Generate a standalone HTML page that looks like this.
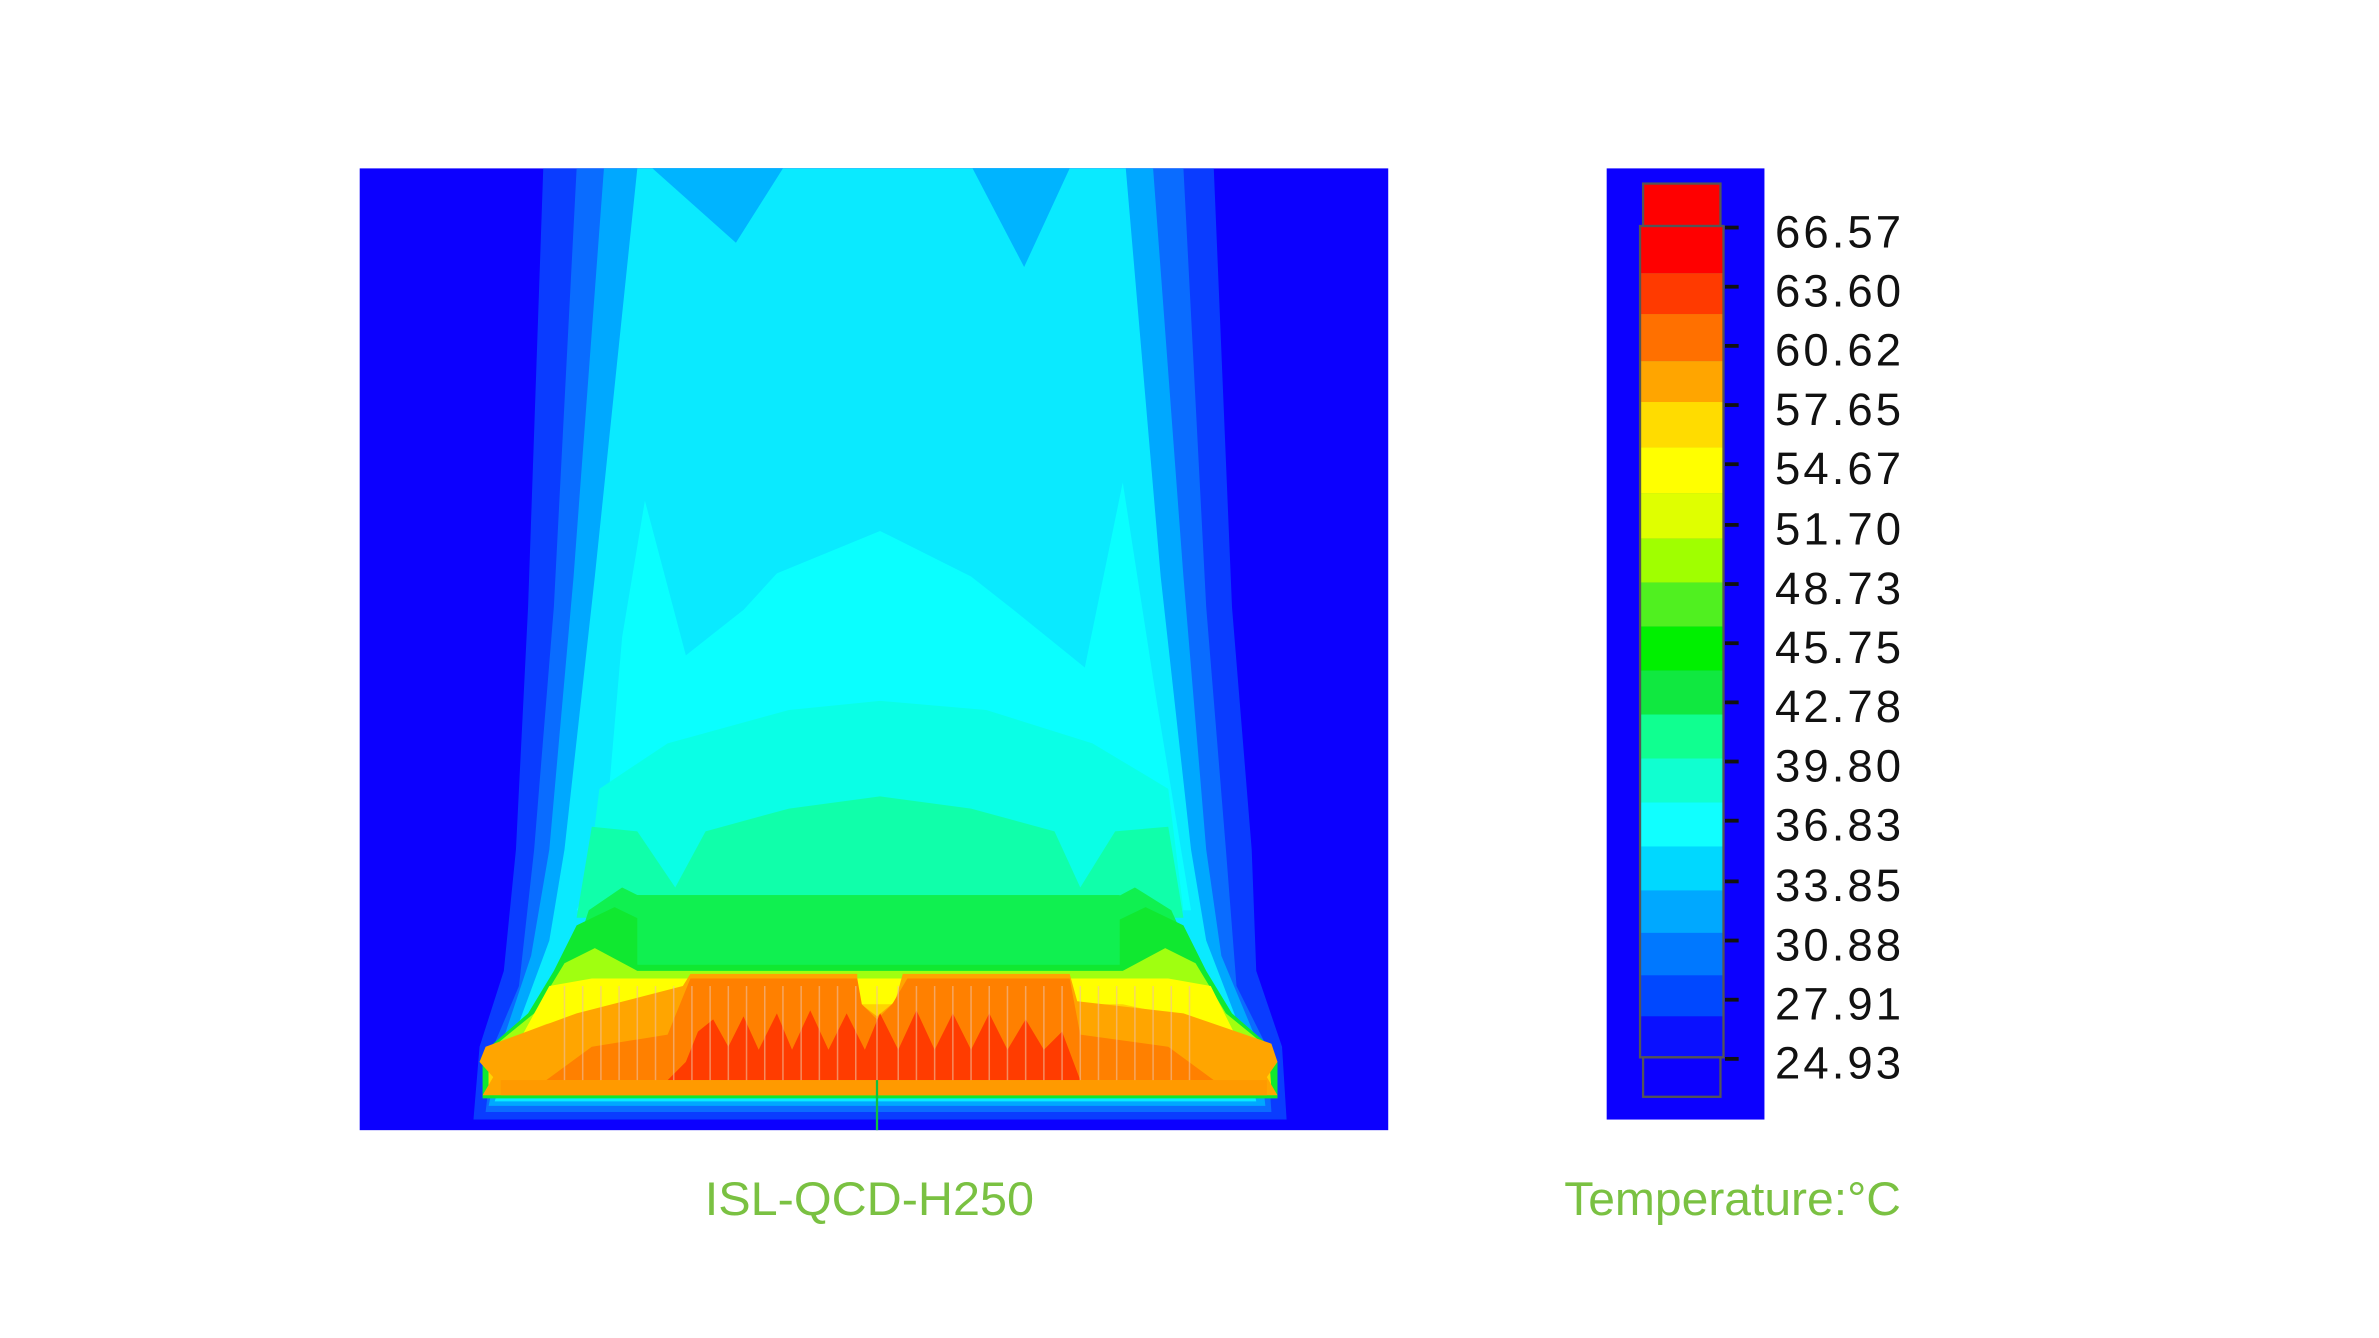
<!DOCTYPE html>
<html><head><meta charset="utf-8"><style>
html,body{margin:0;padding:0;background:#fff;}
svg{display:block;}
</style></head><body>
<svg width="2379" height="1338" viewBox="0 0 1568 882" xmlns="http://www.w3.org/2000/svg">
<rect width="1568" height="882" fill="#fff"/>
<rect x="237" y="111" width="678" height="634" fill="#0c00ff"/>
<polygon fill="#0a3cff" points="358,111 800,111 812,400 825,560 828,640 845,690 848,738 312,738 316,690 332,640 340,560 348,400"/>
<polygon fill="#0a6cff" points="380,111 780,111 795,400 808,560 815,650 835,690 838,733 320,733 325,690 342,650 352,560 365,400"/>
<polygon fill="#00a8ff" points="398,111 760,111 780,380 795,560 805,630 830,690 834,729 322,729 330,690 350,630 362,560 378,380"/>
<polygon fill="#0aeaff" points="420,111 742,111 765,380 785,560 795,620 820,685 828,726 326,726 338,685 362,620 372,560 392,380"/>
<polygon fill="#00b4ff" points="430,111 516,111 485,160"/>
<polygon fill="#00b4ff" points="641,111 705,111 675,176"/>
<polygon fill="#0affff" points="398,560 410,420 425,330 452,432 490,402 512,378 580,350 640,380 668,402 715,440 740,318 762,460 785,600 380,600"/>
<polygon fill="#0affe6" points="385,600 395,520 440,490 520,468 580,462 650,468 720,490 770,520 780,600"/>
<polygon fill="#10ffaa" points="380,605 390,545 420,548 445,585 465,548 520,533 580,525 640,533 695,548 712,585 735,548 770,545 780,605"/>
<polygon fill="#10f050" points="375,640 388,600 410,585 440,600 470,625 690,625 720,600 748,585 772,600 790,640"/>
<path fill="#10e830" d="M365,640 L380,610 405,598 430,610 440,630 720,630 730,610 755,598 780,610 795,640 812,668 835,688 842,700 842,724 318,724 318,700 325,688 348,668 Z"/>
<path fill="#a0ff10" d="M352,668 L372,635 392,625 420,640 740,640 768,625 788,635 808,668 835,690 838,718 322,718 325,690 Z"/>
<path fill="#ffff00" d="M340,690 L362,650 390,645 420,645 740,645 770,645 798,650 818,690 836,692 836,718 322,718 322,692 Z"/>
<path fill="#ffd400" d="M322,690 L360,675 420,662 740,662 800,675 836,690 838,718 322,718 Z"/>
<path fill="#ffa500" d="M320,690 L380,668 450,650 455,642 565,642 565,660 578,670 590,660 595,642 705,642 710,660 780,668 838,688 842,700 835,710 842,722 318,722 325,710 316,700 Z"/>
<path fill="#ff8000" d="M360,712 L390,690 440,682 455,645 565,645 568,662 578,672 588,662 598,645 705,645 712,682 770,690 800,712 Z"/>
<path fill="#ff3c00" d="M440,712 L452,700 460,680 470,672 480,690 490,670 500,692 512,668 522,692 534,666 546,692 558,668 570,692 580,668 592,692 604,666 616,692 628,668 640,692 652,668 664,692 676,672 688,692 700,680 712,712 Z"/>
<rect x="330" y="712" width="505" height="10" fill="#ff9a00"/>
<g stroke="#f0c0a0" stroke-width="1" opacity="0.6">
<line x1="372" y1="650" x2="372" y2="712"/><line x1="384" y1="650" x2="384" y2="712"/><line x1="396" y1="650" x2="396" y2="712"/><line x1="408" y1="650" x2="408" y2="712"/><line x1="420" y1="650" x2="420" y2="712"/><line x1="432" y1="650" x2="432" y2="712"/><line x1="444" y1="650" x2="444" y2="712"/><line x1="456" y1="650" x2="456" y2="712"/><line x1="468" y1="650" x2="468" y2="712"/><line x1="480" y1="650" x2="480" y2="712"/><line x1="492" y1="650" x2="492" y2="712"/><line x1="504" y1="650" x2="504" y2="712"/><line x1="516" y1="650" x2="516" y2="712"/><line x1="528" y1="650" x2="528" y2="712"/><line x1="540" y1="650" x2="540" y2="712"/><line x1="552" y1="650" x2="552" y2="712"/><line x1="564" y1="650" x2="564" y2="712"/><line x1="578" y1="650" x2="578" y2="712"/><line x1="592" y1="650" x2="592" y2="712"/><line x1="604" y1="650" x2="604" y2="712"/><line x1="616" y1="650" x2="616" y2="712"/><line x1="628" y1="650" x2="628" y2="712"/><line x1="640" y1="650" x2="640" y2="712"/><line x1="652" y1="650" x2="652" y2="712"/><line x1="664" y1="650" x2="664" y2="712"/><line x1="676" y1="650" x2="676" y2="712"/><line x1="688" y1="650" x2="688" y2="712"/><line x1="700" y1="650" x2="700" y2="712"/><line x1="712" y1="650" x2="712" y2="712"/><line x1="724" y1="650" x2="724" y2="712"/><line x1="736" y1="650" x2="736" y2="712"/><line x1="748" y1="650" x2="748" y2="712"/><line x1="760" y1="650" x2="760" y2="712"/><line x1="772" y1="650" x2="772" y2="712"/><line x1="784" y1="650" x2="784" y2="712"/>
</g>
<rect x="420" y="590" width="318" height="46" fill="#10f050"/>
<line x1="578" y1="712" x2="578" y2="745" stroke="#10c040" stroke-width="1.5"/>
<rect x="1059" y="111" width="104" height="627" fill="#0c00ff"/>
<rect x="1083" y="121" width="51" height="28" fill="#ff0000" stroke="#555" stroke-width="1.5"/>
<g>
<rect x="1081" y="149" width="55" height="31" fill="#ff0000"/>
<rect x="1081" y="180" width="55" height="27" fill="#ff3a00"/>
<rect x="1081" y="207" width="55" height="31" fill="#ff7000"/>
<rect x="1081" y="238" width="55" height="27" fill="#ffa500"/>
<rect x="1081" y="265" width="55" height="30" fill="#ffdc00"/>
<rect x="1081" y="295" width="55" height="30" fill="#ffff00"/>
<rect x="1081" y="325" width="55" height="30" fill="#dfff00"/>
<rect x="1081" y="355" width="55" height="29" fill="#a0ff00"/>
<rect x="1081" y="384" width="55" height="29" fill="#50f020"/>
<rect x="1081" y="413" width="55" height="29" fill="#00f000"/>
<rect x="1081" y="442" width="55" height="29" fill="#10e840"/>
<rect x="1081" y="471" width="55" height="29" fill="#10ff90"/>
<rect x="1081" y="500" width="55" height="29" fill="#10ffd0"/>
<rect x="1081" y="529" width="55" height="29" fill="#10ffff"/>
<rect x="1081" y="558" width="55" height="29" fill="#00d8ff"/>
<rect x="1081" y="587" width="55" height="28" fill="#00a8ff"/>
<rect x="1081" y="615" width="55" height="28" fill="#0078ff"/>
<rect x="1081" y="643" width="55" height="27" fill="#0048ff"/>
<rect x="1081" y="670" width="55" height="27" fill="#0a10ff"/>
</g>
<rect x="1081" y="149" width="55" height="548" fill="none" stroke="#555" stroke-width="1.5"/>
<rect x="1083" y="697" width="51" height="26" fill="none" stroke="#555" stroke-width="1.5"/>
<g stroke="#111" stroke-width="2.5">
<line x1="1137" y1="150" x2="1146" y2="150"/><line x1="1137" y1="189" x2="1146" y2="189"/><line x1="1137" y1="228" x2="1146" y2="228"/><line x1="1137" y1="267" x2="1146" y2="267"/><line x1="1137" y1="306" x2="1146" y2="306"/><line x1="1137" y1="346" x2="1146" y2="346"/><line x1="1137" y1="385" x2="1146" y2="385"/><line x1="1137" y1="424" x2="1146" y2="424"/><line x1="1137" y1="463" x2="1146" y2="463"/><line x1="1137" y1="502" x2="1146" y2="502"/><line x1="1137" y1="541" x2="1146" y2="541"/><line x1="1137" y1="581" x2="1146" y2="581"/><line x1="1137" y1="620" x2="1146" y2="620"/><line x1="1137" y1="659" x2="1146" y2="659"/><line x1="1137" y1="698" x2="1146" y2="698"/>
</g>
<g font-family="Liberation Sans, sans-serif" font-size="30" fill="#111" letter-spacing="2">
<text x="1170" y="163">66.57</text><text x="1170" y="202">63.60</text><text x="1170" y="241">60.62</text><text x="1170" y="280">57.65</text><text x="1170" y="319">54.67</text><text x="1170" y="359">51.70</text><text x="1170" y="398">48.73</text><text x="1170" y="437">45.75</text><text x="1170" y="476">42.78</text><text x="1170" y="515">39.80</text><text x="1170" y="554">36.83</text><text x="1170" y="594">33.85</text><text x="1170" y="633">30.88</text><text x="1170" y="672">27.91</text><text x="1170" y="711">24.93</text>
</g>
<g font-family="Liberation Sans, sans-serif" font-size="31" fill="#7ac142">
<text x="573" y="801" text-anchor="middle" textLength="217" lengthAdjust="spacingAndGlyphs">ISL-QCD-H250</text>
<text x="1031" y="801" textLength="222" lengthAdjust="spacingAndGlyphs">Temperature:°C</text>
</g>
</svg>
</body></html>
